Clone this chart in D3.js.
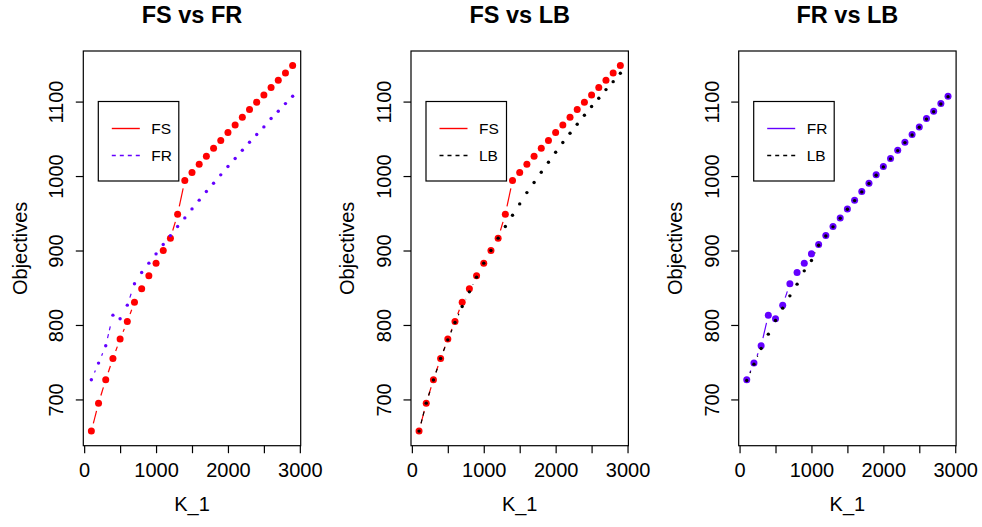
<!DOCTYPE html>
<meta charset="utf-8">
<style>
html, body { margin: 0; padding: 0; background: #fff; }
svg text { font-family: "Liberation Sans", Arial, sans-serif; fill: #000; }
</style>
<div id="chart"></div>
<script src="https://cdn.jsdelivr.net/npm/d3@7"></script>
<script>

// K_1 values (x axis)
var k1 = [100,200,300,400,500,600,700,800,900,1000,1100,1200,1300,1400,1500,
          1600,1700,1800,1900,2000,2100,2200,2300,2400,2500,2600,2700,2800,2900];

// objectives
var fs = [657.5,695,726.4,755,781,804.7,830.6,848.5,866,883,900,916.6,948.8,994,1004.7,
          1015.9,1026.6,1037.4,1047.7,1058.4,1068.7,1079,1089.3,1099,1109,1118.8,1128.6,1138.5,1148.3];
var fr = [726.4,748.8,772,813.2,808.3,826.6,855.3,870.5,883,895.5,908,920,932.2,943.8,955.9,
          967.6,979.2,990.4,1001.6,1012.8,1023.5,1034.7,1045.4,1055.7,1066,1077.2,1087,1097.3,1107.2];
var lbFs = [657.5,695,726,755,780,803.4,824.8,844.5,864.2,883,900,916.6,932.2,947.4,962.6,
            977.8,991.3,1005.1,1018.6,1032,1045,1057.5,1069.6,1081.7,1093.3,1104.5,1116.1,1126.8,1138];
var lbFr = [725.5,747.4,768.5,787.7,806,822.6,839.1,854.8,872.7,886.6,907,919.5,931.8,943.3,955.4,
            967,978.7,989.9,1001,1012.3,1023,1034.2,1044.9,1055.2,1065.5,1076.5,1086.4,1096.7,1106.6];

var xTicks = [0,500,1000,1500,2000,2500,3000];
var xTickLabels = [0,1000,2000,3000];
var yTicks = [700,800,900,1000,1100];

var purple = "#6400ff";

var panels = [
  {title: "FS vs FR", a: {name: "FS", v: fs, color: "red"},   b: {name: "FR", v: fr, color: purple}},
  {title: "FS vs LB", a: {name: "FS", v: fs, color: "red"},   b: {name: "LB", v: lbFs, color: "black"}},
  {title: "FR vs LB", a: {name: "FR", v: fr, color: purple}, b: {name: "LB", v: lbFr, color: "black"}}
];

var width = 982, height = 527;
var svg = d3.select("#chart").append("svg")
    .attr("width", width).attr("height", height);

// shared y range, R style 4% padding
var all = fs.concat(fr, lbFs, lbFr);
var ymin = d3.min(all), ymax = d3.max(all), pad = (ymax - ymin) * 0.04;
var xpad = (d3.max(k1) - d3.min(k1)) * 0.04;

var boxW = 217.4, boxTop = 51, boxBottom = 445.7, gap = 8;

panels.forEach(function(p, i) {
  var left = 83.3 + i * 327.7;
  var x = d3.scaleLinear().domain([d3.min(k1) - xpad, d3.max(k1) + xpad]).range([left, left + boxW]);
  var y = d3.scaleLinear().domain([ymin - pad, ymax + pad]).range([boxBottom, boxTop]);
  var g = svg.append("g");

  // type = "b": segments with gaps round points
  function drawSeries(s, dash) {
    var pts = k1.map(function(k, j) { return [x(k), y(s.v[j])]; });
    for (var j = 0; j < pts.length - 1; j++) {
      var p0 = pts[j], p1 = pts[j + 1];
      var dx = p1[0] - p0[0], dy = p1[1] - p0[1], d = Math.sqrt(dx * dx + dy * dy);
      if (d <= 2 * gap) continue;
      var ux = dx / d, uy = dy / d;
      g.append("line")
        .attr("x1", p0[0] + ux * gap).attr("y1", p0[1] + uy * gap)
        .attr("x2", p1[0] - ux * gap).attr("y2", p1[1] - uy * gap)
        .attr("stroke", s.color).attr("stroke-width", 1.2)
        .attr("stroke-dasharray", dash ? "4,4" : null);
    }
    return pts;
  }

  var ptsA = drawSeries(p.a, false);
  g.selectAll(null).data(ptsA).enter().append("circle")
    .attr("cx", function(d) { return d[0]; }).attr("cy", function(d) { return d[1]; })
    .attr("r", 3.5).attr("fill", p.a.color);

  var ptsB = drawSeries(p.b, true);
  g.selectAll(null).data(ptsB).enter().append("circle")
    .attr("cx", function(d) { return d[0]; }).attr("cy", function(d) { return d[1]; })
    .attr("r", 1.7).attr("fill", p.b.color);

  // box
  g.append("rect").attr("x", left).attr("y", boxTop)
    .attr("width", boxW).attr("height", boxBottom - boxTop)
    .attr("fill", "none").attr("stroke", "#000").attr("stroke-width", 1.2);

  // x axis
  var xa = g.append("g").attr("transform", "translate(0," + boxBottom + ")")
    .call(d3.axisBottom(x).tickValues(xTicks).tickSize(7.5).tickSizeOuter(0)
      .tickFormat(function(d) { return xTickLabels.indexOf(d) >= 0 ? String(d) : ""; }));
  xa.select(".domain").remove();
  xa.selectAll("line").attr("stroke", "#000").attr("stroke-width", 1.2);
  xa.selectAll("text").attr("dy", null).attr("y", 31.6)
    .attr("font-size", 20).attr("font-family", "Liberation Sans, Arial, sans-serif");

  // y axis, labels parallel to the axis
  var ya = g.append("g").attr("transform", "translate(" + left + ",0)")
    .call(d3.axisLeft(y).tickValues(yTicks).tickSize(7.5).tickSizeOuter(0)
      .tickFormat(d3.format("d")));
  ya.select(".domain").remove();
  ya.selectAll("line").attr("stroke", "#000").attr("stroke-width", 1.2);
  ya.selectAll("text").attr("x", null).attr("dy", null)
    .attr("text-anchor", "middle").attr("font-size", 20)
    .attr("font-family", "Liberation Sans, Arial, sans-serif")
    .attr("transform", "translate(-20,0) rotate(-90)");

  // titles
  g.append("text").attr("x", left + boxW / 2).attr("y", 23.3)
    .attr("text-anchor", "middle").attr("font-size", 23.5).attr("font-weight", "bold")
    .text(p.title);
  g.append("text").attr("x", left + boxW / 2).attr("y", 511)
    .attr("text-anchor", "middle").attr("font-size", 20).text("K_1");
  g.append("text")
    .attr("transform", "translate(" + (left - 56.6) + "," + ((boxTop + boxBottom) / 2) + ") rotate(-90)")
    .attr("text-anchor", "middle").attr("font-size", 20).text("Objectives");

  // legend
  var lx = left + 15, ly = 101.5;
  var lg = g.append("g").attr("transform", "translate(" + lx + "," + ly + ")");
  lg.append("rect").attr("width", 80.5).attr("height", 79.5)
    .attr("fill", "#fff").attr("stroke", "#000").attr("stroke-width", 1.2);
  [p.a, p.b].forEach(function(s, j) {
    var yy = 27 + j * 27;
    lg.append("line").attr("x1", 13.5).attr("x2", 41.5).attr("y1", yy).attr("y2", yy)
      .attr("stroke", s.color).attr("stroke-width", 1.4)
      .attr("stroke-dasharray", j ? "4,4" : null);
    lg.append("text").attr("x", 53).attr("y", yy).attr("dy", "0.36em")
      .attr("font-size", 15.5).text(s.name);
  });
});
</script>
